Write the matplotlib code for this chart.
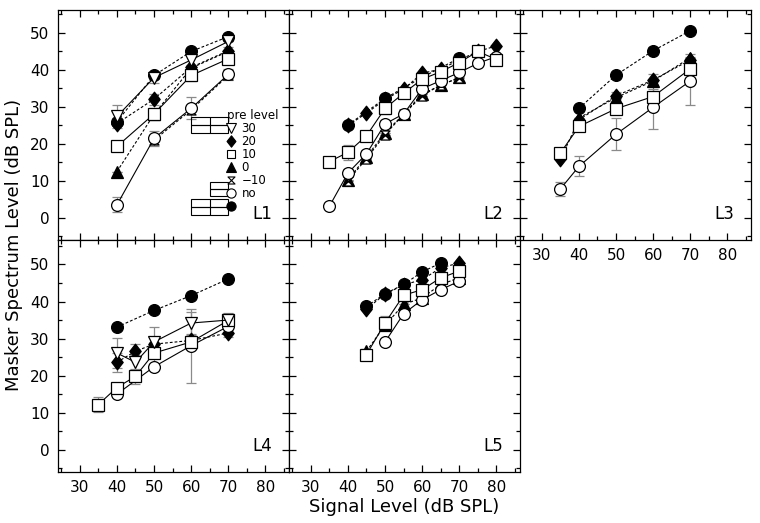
#!/usr/bin/env python3

# plot.py
#
# Masker spectrum level vs signal level, five listeners (L1-L5),
# one series per precursor level.
import matplotlib
matplotlib.use('Agg')
import matplotlib.pyplot as plt
import numpy as np
from matplotlib.path import Path
from matplotlib.lines import Line2D

IMAGEFILE = 'out.png'

# Series keys and legend labels (fixed = filled circle, no label)
SERIES = ['fixed', '20', '0', '-10', 'no', '10', '30']
LEGEND_KEYS = ['30', '20', '10', '0', '-10', 'no', 'fixed']
LEGEND_LABELS = ['30', '20', '10', '0', '\u221210', 'no', '']
PANEL_NAMES = ['L1', 'L2', 'L3', 'L4', 'L5']

# Data: series -> (signal level, masker level, error)
L1 = {
    'fixed': ([40, 50, 60, 70], [26.0, 38.5, 45.0, 49.0], [1.0, 1.0, 1.0, 1.0]),
    '20':    ([40, 50, 60, 70], [25.5, 32.1, 40.7, 45.2], [0, 1.5, 0, 1.0]),
    '0':     ([40, 50, 60, 70], [12.5, 28.0, 40.5, 45.0], [0, 0, 0, 0]),
    '-10':   ([50, 60, 70], [21.0, 29.2, 38.5], [0, 0, 0]),
    'no':    ([40, 50, 60, 70], [3.5, 21.5, 29.6, 38.8], [2.0, 2.0, 3.0, 1.5]),
    '10':    ([40, 50, 60, 70], [19.3, 28.1, 38.5, 43.0], [0, 1.5, 1.5, 0]),
    '30':    ([40, 50, 60, 70], [27.4, 37.9, 42.7, 47.7], [3.0, 1.5, 1.5, 0]),
}
L2 = {
    'fixed': ([40, 50, 60, 70], [25.1, 32.3, 38.0, 43.2], [0, 0, 0, 1.0]),
    '20':    ([40, 45, 50, 55, 60, 65, 70, 75, 80],
              [25.0, 28.3, 32.0, 34.8, 39.1, 40.2, 42.7, 45.0, 46.5],
              [0, 0, 0, 0, 0, 0, 0, 0, 0]),
    '0':     ([40, 45, 50, 55, 60, 65, 70],
              [10.3, 16.5, 23.0, 28.0, 33.5, 35.8, 38.0], [0, 0, 0, 0, 0, 0, 0]),
    '-10':   ([40, 45, 50, 55, 60, 65, 70],
              [10.0, 16.0, 22.5, 28.0, 33.0, 36.0, 37.8], [0, 0, 0, 0, 0, 0, 0]),
    'no':    ([35, 40, 45, 50, 55, 60, 65, 70, 75, 80],
              [3.1, 12.1, 17.3, 25.4, 28.1, 34.9, 37.1, 39.3, 41.8, 43.6],
              [0, 1.0, 1.0, 1.0, 0, 0, 0, 0, 0, 0]),
    '10':    ([35, 40, 45, 50, 55, 60, 65, 70, 75, 80],
              [15.2, 17.7, 22.2, 29.6, 33.7, 37.5, 39.5, 42.0, 45.0, 42.8],
              [0, 2.0, 0, 1.5, 0, 0, 0, 0, 1.0, 0]),
}
L3 = {
    'fixed': ([40, 50, 60, 70], [29.6, 38.6, 45.2, 50.6], [0, 0, 1.0, 0]),
    '20':    ([35, 40, 50, 60, 70], [15.8, 26.5, 33.0, 37.3, 42.7], [0, 0, 1.0, 1.5, 1.5]),
    '0':     ([40, 50, 60, 70], [27.0, 32.5, 37.0, 43.3], [0, 0, 0, 0]),
    'no':    ([35, 40, 50, 60, 70], [7.8, 13.9, 22.6, 29.9, 37.0], [2.0, 2.7, 4.3, 6.0, 6.5]),
    '10':    ([35, 40, 50, 60, 70], [17.5, 24.7, 29.5, 32.8, 40.3], [0, 0, 0, 2.0, 1.0]),
}
L4 = {
    'fixed': ([40, 50, 60, 70], [33.1, 37.6, 41.6, 46.1], [0, 0, 0, 0]),
    '20':    ([40, 45, 50, 60, 70], [23.6, 26.6, 28.5, 29.5, 31.5], [2.5, 2.0, 0, 0, 1.0]),
    'no':    ([40, 50, 60, 70], [15.0, 22.4, 28.1, 33.3], [0, 0, 10.0, 0]),
    '10':    ([35, 40, 45, 50, 60, 70], [12.2, 16.8, 19.8, 26.1, 29.1, 34.9],
              [2.0, 0, 2.0, 3.0, 2.0, 2.0]),
    '30':    ([40, 45, 50, 60, 70], [26.1, 23.6, 29.1, 34.2, 35.0], [4.0, 2.0, 4.0, 3.0, 1.5]),
}
L5 = {
    'fixed': ([45, 50, 55, 60, 65], [38.7, 42.1, 44.6, 48.0, 50.4], [1.0, 0, 0, 0, 0]),
    '20':    ([45, 50, 55, 60, 65, 70], [38.0, 42.0, 44.5, 45.9, 49.1, 50.4], [0, 0, 0, 0, 0, 0]),
    '0':     ([45, 50, 55, 60, 65, 70], [26.6, 33.6, 39.2, 41.0, 44.6, 46.4], [0, 0, 0, 0, 0, 0]),
    'no':    ([50, 55, 60, 65, 70], [29.1, 36.7, 40.5, 43.2, 45.5], [0, 0, 0, 0, 0]),
    '10':    ([45, 50, 55, 60, 65, 70], [25.7, 34.2, 41.7, 43.2, 46.4, 48.2],
              [1.5, 2.0, 0, 0, 1.0, 1.0]),
}
PANELS = [L1, L2, L3, L4, L5]

# Stray horizontal boxes in the L1 panel
BOX_Y = [24.1, 26.25, 6.95, 8.85, 1.85, 3.95]
BOX_LEFT = [60, 60, 65, 65, 60, 60]
BOX_WIDTH = [10, 10, 5, 5, 10, 10]
BOX_HEIGHT = [2.2, 2.1, 1.9, 1.9, 2.1, 2.1]

# Marker styles
HOURGLASS = Path([(-1, 1), (1, 1), (-1, -1), (1, -1), (-1, 1)],
                 [Path.MOVETO, Path.LINETO, Path.LINETO, Path.LINETO, Path.CLOSEPOLY])
DIAMOND = Path([(0, 1), (0.78, 0), (0, -1), (-0.78, 0), (0, 1)],
               [Path.MOVETO, Path.LINETO, Path.LINETO, Path.LINETO, Path.CLOSEPOLY])
DASH = (0, (2.5, 1.8))
STYLE = {
    'fixed': dict(marker='o', mfc='black', ls=DASH, ms=8.5),
    '20':    dict(marker=DIAMOND, mfc='black', ls=DASH, ms=10.5),
    '0':     dict(marker='^', mfc='black', ls=DASH, ms=8.5),
    '-10':   dict(marker=HOURGLASS, mfc='white', ls=DASH, ms=6.5),
    'no':    dict(marker='o', mfc='white', ls='-', ms=8.5),
    '10':    dict(marker='s', mfc='white', ls='-', ms=8),
    '30':    dict(marker='v', mfc='white', ls='-', ms=8.5),
}

plt.rcParams['font.family'] = ['DejaVu Sans']
plt.rcParams['font.size'] = 11

fig = plt.figure(figsize=(7.6, 5.23), dpi=100)
W = 231 / 760
POS = [
    (57.5 / 760, 283 / 523, W, 230 / 523),
    (288.5 / 760, 283 / 523, W, 230 / 523),
    (519.5 / 760, 283 / 523, W, 230 / 523),
    (57.5 / 760, 51 / 523, W, 232 / 523),
    (288.5 / 760, 51 / 523, W, 232 / 523),
]

axes = []
for i, data in enumerate(PANELS):
    ax = fig.add_axes(POS[i])
    axes.append(ax)
    for key in SERIES:
        if key not in data:
            continue
        x, y, err = data[key]
        st = STYLE[key]
        # Error bars: gray stems, black caps
        eb = ax.errorbar(x, y, yerr=err, fmt='none', ecolor='#8a8a8a',
                         elinewidth=0.9, capsize=3.5, capthick=0.9, zorder=1)
        for cap in eb[1]:
            cap.set_color('black')
        ax.plot(x, y, color='black', lw=0.8, ls=st['ls'], marker=st['marker'],
                ms=st['ms'], mfc=st['mfc'], mec='black', mew=0.9, zorder=2)

    ax.set_xlim(24, 86.2)
    ax.set_ylim(-6, 56.2 if i < 3 else 56.6)
    ax.set_xticks(np.arange(30, 81, 10))
    ax.set_xticks(np.arange(25, 86, 5), minor=True)
    ax.set_yticks(np.arange(0, 51, 10))
    ax.set_yticks(np.arange(-5, 56, 5), minor=True)
    ax.tick_params(which='both', direction='in', top=True, right=True, width=0.9)
    ax.tick_params(which='major', length=5, pad=6)
    ax.tick_params(which='minor', length=3)
    for sp in ax.spines.values():
        sp.set_linewidth(0.9)
    if i not in (0, 3):
        ax.set_yticklabels([])
    if i in (0, 1):
        ax.set_xticklabels([])
    ax.text(81.8, 1.0, PANEL_NAMES[i], ha='right', va='center', fontsize=12)

# Boxes in L1
axes[0].barh(BOX_Y, BOX_WIDTH, left=BOX_LEFT, height=BOX_HEIGHT, fill=False,
             edgecolor='black', linewidth=0.8, zorder=1)
axes[0].vlines([65, 65], [23.0, 0.8], [27.3, 5.0], color='black', lw=0.8, zorder=1)

# Legend
handles = []
for key in LEGEND_KEYS:
    st = STYLE[key]
    handles.append(Line2D([], [], ls='none', marker=st['marker'], ms=st['ms'] * 0.78,
                          mfc=st['mfc'], mec='black', mew=0.8))
axes[0].legend(handles, LEGEND_LABELS, title='pre level', loc='upper left',
               bbox_to_anchor=(0.735, 0.57), frameon=False, fontsize=8.5,
               title_fontsize=8.5, alignment='left', handlelength=0.7,
               handletextpad=0.5, labelspacing=0.0, borderpad=0, borderaxespad=0)

fig.text(0.018, 0.532, 'Masker Spectrum Level (dB SPL)', rotation=90,
         ha='center', va='center', fontsize=13)
axes[4].set_xlabel('Signal Level (dB SPL)', fontsize=13, labelpad=2)

fig.savefig(IMAGEFILE, dpi=100)
